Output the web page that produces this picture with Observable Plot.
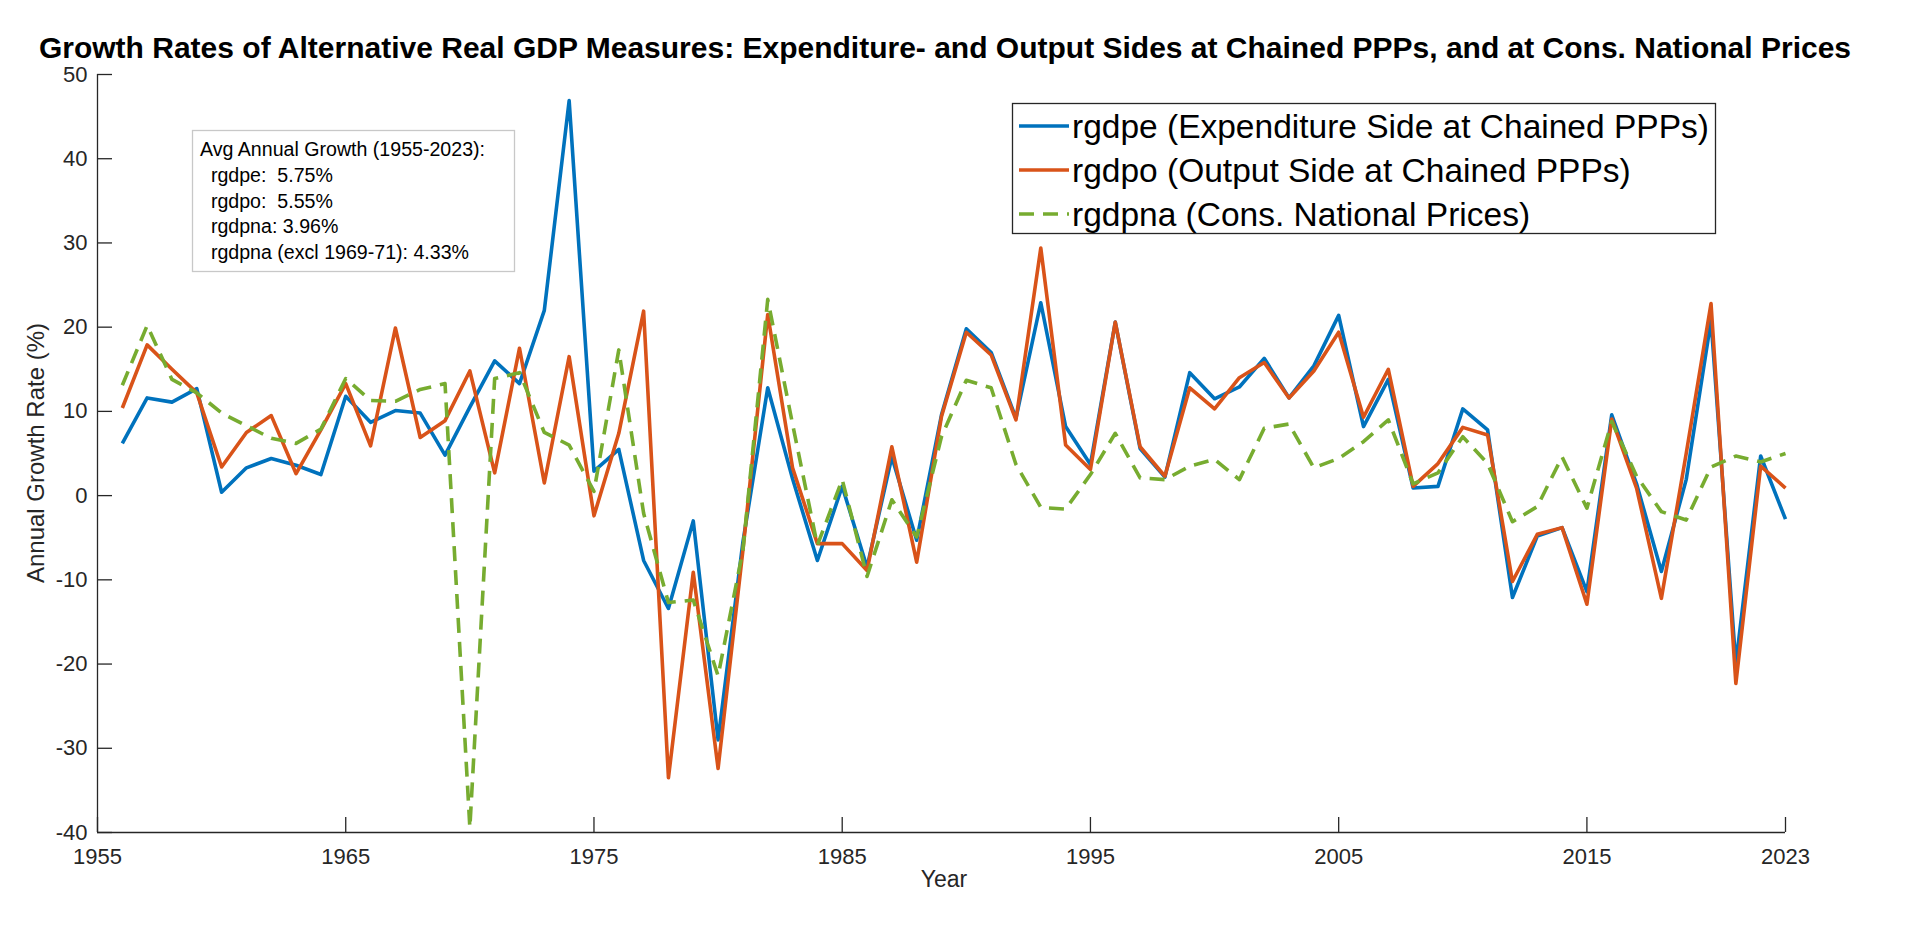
<!DOCTYPE html>
<html>
<head>
<meta charset="utf-8">
<script src="https://cdn.jsdelivr.net/npm/d3@7"></script>
<script src="https://cdn.jsdelivr.net/npm/@observablehq/plot@0.6"></script>
<style>
  body { margin: 0; background: #fff; }
  #wrap { position: relative; width: 1920px; height: 926px; overflow: hidden; background: #fff; }
  #wrap svg { display: block; }
  #overlay { position: absolute; left: 0; top: 0; pointer-events: none; }
</style>
</head>
<body>
<div id="wrap"></div>
<script>
const FONT = '"Liberation Sans", Arial, Helvetica, sans-serif';

// ---- data ----
const years = d3.range(1956, 2024);
const rgdpe = [
  6.2, 11.6, 11.1, 12.7, 0.4, 3.3, 4.4, 3.6, 2.5, 11.8,
  8.7, 10.1, 9.8, 4.8, 10.5, 16.0, 13.3, 22.0, 46.9, 2.9,
  5.5, -7.7, -13.4, -3.0, -29.0, -5.5, 12.8, 2.0, -7.7, 1.1,
  -8.5, 4.6, -5.3, 9.6, 19.8, 17.0, 9.2, 22.9, 8.2, 3.7,
  20.6, 5.6, 2.2, 14.6, 11.5, 12.9, 16.3, 11.6, 15.4, 21.4,
  8.2, 13.8, 0.9, 1.1, 10.3, 7.8, -12.1, -4.8, -3.8, -11.4,
  9.6, 1.4, -9.0, 1.9, 20.8, -20.0, 4.7, -2.8
];
const rgdpo = [
  10.4, 17.9, 15.0, 12.2, 3.4, 7.5, 9.5, 2.6, 7.8, 13.3,
  5.9, 19.9, 6.9, 8.9, 14.8, 2.7, 17.5, 1.5, 16.5, -2.4,
  7.4, 21.9, -33.5, -9.1, -32.4, -6.5, 21.5, 3.3, -5.7, -5.7,
  -8.9, 5.8, -7.9, 9.4, 19.4, 16.7, 9.0, 29.4, 6.0, 3.1,
  20.6, 5.8, 2.3, 12.8, 10.3, 14.0, 15.8, 11.6, 14.8, 19.4,
  9.3, 15.0, 1.1, 3.8, 8.1, 7.2, -10.2, -4.6, -3.8, -12.9,
  9.1, 0.9, -12.2, 5.0, 22.8, -22.3, 3.5, 0.9
];
const rgdpna = [
  13.1, 20.2, 13.8, 12.2, 9.8, 8.3, 6.8, 6.2, 7.9, 13.9,
  11.3, 11.2, 12.6, 13.3, -39.4, 13.9, 14.6, 7.5, 6.0, 0.5,
  17.3, -2.1, -12.7, -12.4, -21.4, -6.5, 23.3, 8.5, -5.9, 1.9,
  -9.6, -0.5, -4.9, 7.0, 13.7, 12.8, 3.7, -1.4, -1.6, 2.5,
  7.4, 2.1, 1.9, 3.5, 4.3, 1.9, 8.0, 8.5, 3.3, 4.4,
  6.4, 9.0, 1.4, 2.7, 7.0, 3.8, -3.1, -1.3, 4.6, -1.5,
  8.8, 2.3, -1.9, -2.9, 3.4, 4.7, 4.0, 5.0
];
const yTicks = [-40, -30, -20, -10, 0, 10, 20, 30, 40, 50];
const xTicks = [1955, 1965, 1975, 1985, 1995, 2005, 2015, 2023];
const seriesNames = [
  "rgdpe (Expenditure Side at Chained PPPs)",
  "rgdpo (Output Side at Chained PPPs)",
  "rgdpna (Cons. National Prices)"
];
const seriesColors = ["#0072BD", "#D95319", "#77AC30"];
const seriesDash = [null, null, "15,9"];
const noteLines = [
  "Avg Annual Growth (1955-2023):",
  "  rgdpe:  5.75%",
  "  rgdpo:  5.55%",
  "  rgdpna: 3.96%",
  "  rgdpna (excl 1969-71): 4.33%"
];
const titleText = "Growth Rates of Alternative Real GDP Measures: Expenditure- and Output Sides at Chained PPPs, and at Cons. National Prices";
const xLabel = "Year";
const yLabel = "Annual Growth Rate (%)";

// ---- layout ----
const W = 1920, H = 926;
const mL = 97, mR = 135, mT = 74, mB = 94;
const xDom = [1955, 2023], yDom = [-40, 50];
const tickLen = 15;
const pxPerX = (W - mL - mR) / (xDom[1] - xDom[0]);
const pxPerY = (H - mT - mB) / (yDom[1] - yDom[0]);
const axisColor = "#262626";

const seriesValues = [rgdpe, rgdpo, rgdpna];
const tables = seriesValues.map(vals => years.map((year, i) => ({year, value: vals[i]})));

const lineMarks = tables.map((t, k) => Plot.line(t, {
  x: "year", y: "value",
  stroke: seriesColors[k], strokeWidth: 3.6,
  strokeLinejoin: "round", strokeLinecap: "butt",
  strokeDasharray: seriesDash[k] || undefined
}));

const chart = Plot.plot({
  width: W, height: H,
  marginLeft: mL, marginRight: mR, marginTop: mT, marginBottom: mB,
  x: {domain: xDom},
  y: {domain: yDom},
  style: {fontFamily: FONT, fontSize: "22px", color: axisColor, background: "white"},
  marks: [
    Plot.ruleX([xDom[0]], {stroke: axisColor, strokeWidth: 1.3}),
    Plot.ruleY([yDom[0]], {stroke: axisColor, strokeWidth: 1.3}),
    Plot.ruleY(yTicks, {y: d => d, x1: xDom[0], x2: xDom[0] + tickLen / pxPerX, stroke: axisColor, strokeWidth: 1.3}),
    Plot.ruleX(xTicks, {x: d => d, y1: yDom[0], y2: yDom[0] + tickLen / pxPerY, stroke: axisColor, strokeWidth: 1.3}),
    Plot.axisY({ticks: yTicks, tickSize: 0, tickPadding: 10, label: null, tickFormat: d => String(d)}),
    Plot.axisX({ticks: xTicks, tickSize: 0, tickPadding: 16, label: null, tickFormat: d => String(d)}),
    ...lineMarks
  ]
});

const wrap = document.getElementById("wrap");
wrap.appendChild(chart);

// ---- overlay texts: title, axis labels, note box, legend ----
const svg = d3.select(wrap).append("svg")
  .attr("id", "overlay").attr("width", W).attr("height", H)
  .style("font-family", FONT);

svg.append("text").attr("x", 945).attr("y", 58).attr("text-anchor", "middle")
  .attr("font-size", 30).attr("font-weight", "bold").attr("fill", "#000").text(titleText);

svg.append("text").attr("x", mL + (W - mL - mR) / 2 + 3).attr("y", 887).attr("text-anchor", "middle")
  .attr("font-size", 23).attr("fill", axisColor).text(xLabel);

svg.append("text").attr("transform", `translate(44,${mT + (H - mT - mB) / 2}) rotate(-90)`)
  .attr("text-anchor", "middle").attr("font-size", 24).attr("fill", axisColor).text(yLabel);

// note box
svg.append("rect").attr("x", 192.5).attr("y", 130.5).attr("width", 322).attr("height", 141)
  .attr("fill", "#fff").attr("stroke", "#c8c8c8").attr("stroke-width", 1.3);
noteLines.forEach((t, i) => {
  svg.append("text").attr("x", 200).attr("y", 156 + i * 25.8)
    .attr("font-size", 19.6).attr("fill", "#000").style("white-space", "pre").text(t);
});

// legend
svg.append("rect").attr("x", 1012.5).attr("y", 103.5).attr("width", 703).attr("height", 130)
  .attr("fill", "#fff").attr("stroke", "#262626").attr("stroke-width", 1.3);
seriesNames.forEach((name, i) => {
  const cy = 126 + i * 44;
  svg.append("line").attr("x1", 1019).attr("x2", 1069).attr("y1", cy).attr("y2", cy)
    .attr("stroke", seriesColors[i]).attr("stroke-width", 3.6)
    .attr("stroke-dasharray", seriesDash[i] || null);
  svg.append("text").attr("x", 1072).attr("y", cy + 12)
    .attr("font-size", 33.5).attr("fill", "#000").text(name);
});
</script>
</body>
</html>
